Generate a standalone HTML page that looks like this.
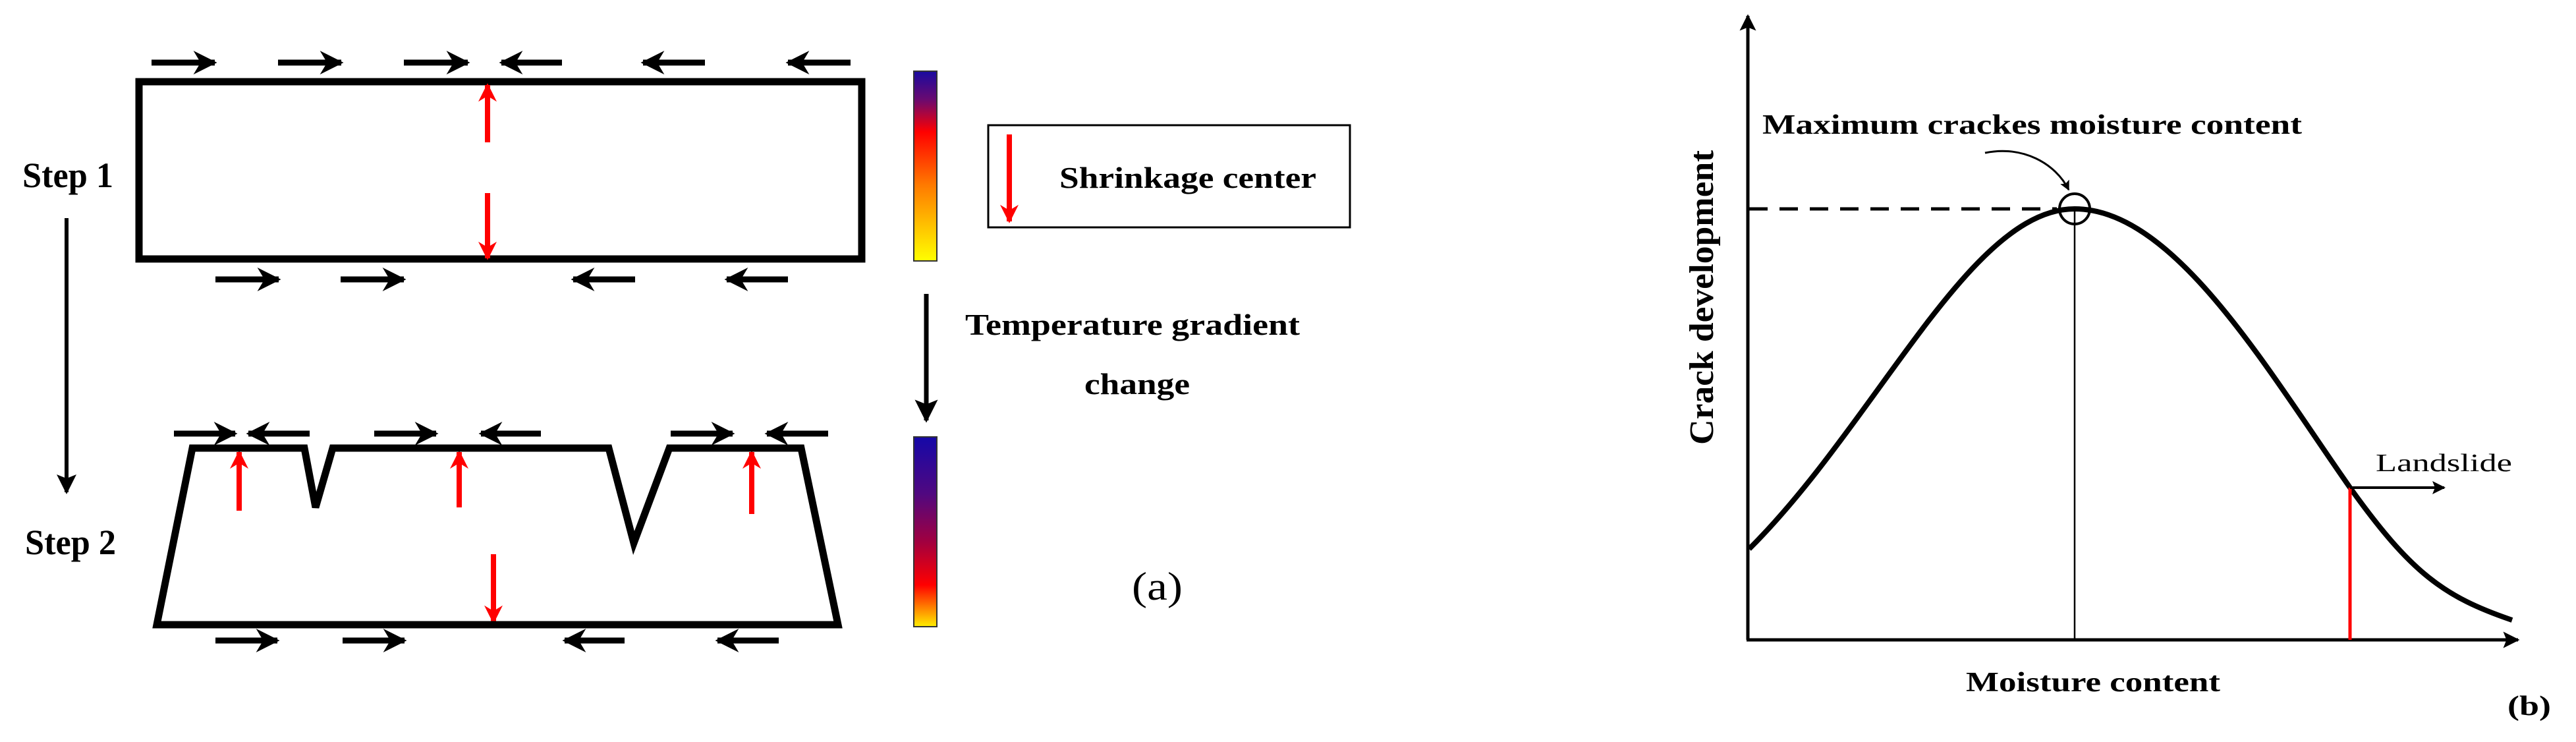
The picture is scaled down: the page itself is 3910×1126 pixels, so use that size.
<!DOCTYPE html>
<html><head><meta charset="utf-8"><style>html,body{margin:0;padding:0;background:#fff;overflow:hidden}svg{display:block}</style></head>
<body>
<svg width="3910" height="1126" viewBox="0 0 3910 1126" xmlns="http://www.w3.org/2000/svg">
<defs>
<marker id="ah" viewBox="0 0 10 10" refX="9" refY="5" markerWidth="4" markerHeight="4" orient="auto" markerUnits="strokeWidth"><path d="M0,0 L10,5 L0,10 L3,5 z" fill="#000"/></marker>
<marker id="rh" viewBox="0 0 10 10" refX="9" refY="5" markerWidth="4.5" markerHeight="3.5" orient="auto" markerUnits="strokeWidth"><path d="M0,0 L10,5 L0,10 L3,5 z" fill="#f00"/></marker>
<marker id="bh" viewBox="0 0 10 10" refX="9" refY="5" markerWidth="5" markerHeight="5" orient="auto" markerUnits="strokeWidth"><path d="M0,0 L10,5 L0,10 L2,5 z" fill="#000"/></marker>
<linearGradient id="g1" x1="0" y1="0" x2="0" y2="1"><stop offset="0" stop-color="#1a0aa0"/><stop offset="0.15" stop-color="#6a0a70"/><stop offset="0.32" stop-color="#f00"/><stop offset="0.6" stop-color="#ff7a00"/><stop offset="1" stop-color="#ffff00"/></linearGradient>
<linearGradient id="g2" x1="0" y1="0" x2="0" y2="1"><stop offset="0" stop-color="#1508a8"/><stop offset="0.3" stop-color="#500880"/><stop offset="0.55" stop-color="#a00040"/><stop offset="0.78" stop-color="#f00"/><stop offset="1" stop-color="#ffee00"/></linearGradient>
</defs>
<g font-family="Liberation Serif, serif">
<rect x="211" y="124" width="1097" height="269" fill="none" stroke="#000" stroke-width="11"/>
<g stroke="#000" stroke-width="9" marker-end="url(#ah)">
<line x1="230" y1="95" x2="326" y2="95"/><line x1="422" y1="95" x2="518" y2="95"/><line x1="613" y1="95" x2="710" y2="95"/>
<line x1="853" y1="95" x2="761" y2="95"/><line x1="1070" y1="95" x2="976" y2="95"/><line x1="1291" y1="95" x2="1196" y2="95"/>
<line x1="327" y1="424" x2="423" y2="424"/><line x1="517" y1="424" x2="613" y2="424"/>
<line x1="964" y1="424" x2="870" y2="424"/><line x1="1196" y1="424" x2="1103" y2="424"/>
<line x1="264" y1="658" x2="357" y2="658"/><line x1="470" y1="658" x2="377" y2="658"/>
<line x1="568" y1="658" x2="662" y2="658"/><line x1="821" y1="658" x2="730" y2="658"/>
<line x1="1018" y1="658" x2="1112" y2="658"/><line x1="1257" y1="658" x2="1164" y2="658"/>
<line x1="327" y1="972" x2="421" y2="972"/><line x1="520" y1="972" x2="614" y2="972"/>
<line x1="948" y1="972" x2="857" y2="972"/><line x1="1182" y1="972" x2="1089" y2="972"/>
</g>
<g stroke="#f00" stroke-width="8" marker-end="url(#rh)">
<line x1="740" y1="216" x2="740" y2="129"/><line x1="740" y1="293" x2="740" y2="392"/>
<line x1="363" y1="775" x2="363" y2="686"/><line x1="697" y1="770" x2="697" y2="686"/><line x1="1141" y1="780" x2="1141" y2="686"/>
<line x1="749" y1="841" x2="749" y2="944"/>
<line x1="1532" y1="204" x2="1532" y2="336"/>
</g>
<text x="34" y="284" font-size="54" font-weight="bold" textLength="138" lengthAdjust="spacingAndGlyphs">Step 1</text>
<text x="38" y="841" font-size="54" font-weight="bold" textLength="138" lengthAdjust="spacingAndGlyphs">Step 2</text>
<line x1="101" y1="331" x2="101" y2="747" stroke="#000" stroke-width="6" marker-end="url(#bh)"/>
<path d="M238,948 L292,680 L462,680 L479,770 L505,680 L924,680 L962,824 L1016,680 L1216,680 L1272,948 Z" fill="none" stroke="#000" stroke-width="11"/>
<rect x="1387" y="108" width="35" height="288" fill="url(#g1)" stroke="#333" stroke-width="2"/>
<rect x="1387" y="663" width="35" height="288" fill="url(#g2)" stroke="#333" stroke-width="2"/>
<rect x="1500" y="190" width="549" height="155" fill="none" stroke="#000" stroke-width="3"/>
<text x="1608" y="285" font-size="46" font-weight="bold" textLength="390" lengthAdjust="spacingAndGlyphs">Shrinkage center</text>
<line x1="1406" y1="446" x2="1406" y2="638" stroke="#000" stroke-width="7" marker-end="url(#bh)"/>
<text x="1465" y="508" font-size="46" font-weight="bold" textLength="508" lengthAdjust="spacingAndGlyphs">Temperature gradient</text>
<text x="1646" y="598" font-size="46" font-weight="bold" textLength="160" lengthAdjust="spacingAndGlyphs">change</text>
<text x="1718" y="910" font-size="60" textLength="77" lengthAdjust="spacingAndGlyphs">(a)</text>
<line x1="2653" y1="971" x2="2653" y2="24" stroke="#000" stroke-width="5" marker-end="url(#bh)"/>
<line x1="2651" y1="971" x2="3822" y2="971" stroke="#000" stroke-width="5" marker-end="url(#bh)"/>
<path d="M2655,833 C2850,639 2990,317 3149,317 C3300,317 3440,559 3567,740 C3660,870 3710,906 3813,941" fill="none" stroke="#000" stroke-width="8"/>
<line x1="2655" y1="317" x2="3122" y2="317" stroke="#000" stroke-width="5" stroke-dasharray="28,18"/>
<circle cx="3149" cy="317" r="23" fill="none" stroke="#000" stroke-width="4"/>
<line x1="3149" y1="317" x2="3149" y2="971" stroke="#000" stroke-width="2.5"/>
<line x1="3567" y1="740" x2="3567" y2="971" stroke="#f00" stroke-width="5"/>
<line x1="3567" y1="740" x2="3710" y2="740" stroke="#000" stroke-width="4" marker-end="url(#bh)"/>
<path d="M3013,232 C3070,220 3120,248 3140,288" fill="none" stroke="#000" stroke-width="3" marker-end="url(#bh)"/>
<text x="3606" y="715" font-size="38" textLength="207" lengthAdjust="spacingAndGlyphs">Landslide</text>
<text x="2675" y="203" font-size="42" font-weight="bold" textLength="819" lengthAdjust="spacingAndGlyphs">Maximum crackes moisture content</text>
<text transform="translate(2600,675) rotate(-90)" font-size="52" font-weight="bold" textLength="447" lengthAdjust="spacingAndGlyphs">Crack development</text>
<text x="2984" y="1049" font-size="42" font-weight="bold" textLength="386" lengthAdjust="spacingAndGlyphs">Moisture content</text>
<text x="3806" y="1085" font-size="42" font-weight="bold" textLength="66" lengthAdjust="spacingAndGlyphs">(b)</text>
</g>
</svg>
</body></html>
